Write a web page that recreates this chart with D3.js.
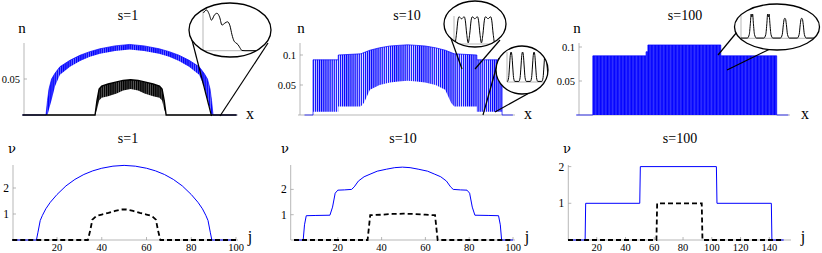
<!DOCTYPE html>
<html>
<head>
<meta charset="utf-8">
<script src="https://cdn.jsdelivr.net/npm/d3@7"></script>
<style>
  body { margin: 0; background: #fff; }
</style>
</head>
<body>
<script>
// ---- data ----
const titles = ["s=1", "s=10", "s=100"]

// top row: density n(x), envelope of the site peaks (upper) and troughs (lower), x in site units j
const tJ1 = [0, 11, 11.7, 12.4, 13.6, 15.2, 17.5, 22.2, 26.9, 31.5, 36.2, 43.2, 50, 56.8, 63.8, 68.5, 73.1, 77.8, 82.5, 84.8, 86.4, 87.6, 88.3, 89, 100]
const tUp1 = [0, 0, 0.02, 0.036, 0.05, 0.058, 0.067, 0.076, 0.083, 0.088, 0.092, 0.096, 0.098, 0.096, 0.092, 0.088, 0.083, 0.076, 0.067, 0.058, 0.05, 0.036, 0.02, 0, 0]
const tLo1 = [0, 0, 0, 0.008, 0.021, 0.04, 0.056, 0.067, 0.075, 0.081, 0.085, 0.089, 0.091, 0.089, 0.085, 0.081, 0.075, 0.067, 0.056, 0.04, 0.021, 0.008, 0, 0, 0]

const tJ1k = [0, 33.9, 34.8, 35.8, 37, 40, 44, 47, 50.5, 54, 57, 61, 64, 65.2, 66.2, 67.1, 100]
const tUp1k = [0, 0, 0.02, 0.036, 0.04, 0.043, 0.046, 0.048, 0.049, 0.048, 0.046, 0.043, 0.04, 0.036, 0.02, 0, 0]
const tLo1k = [0, 0, 0.008, 0.02, 0.024, 0.026, 0.03, 0.034, 0.036, 0.034, 0.03, 0.026, 0.024, 0.02, 0.008, 0, 0]

const tJ2 = [0, 4.1, 4.1, 16.2, 16.2, 27, 28.5, 31.4, 36, 41, 45, 49.45, 53.9, 57.9, 62.9, 67.5, 70.4, 71.9, 82.7, 82.7, 94.8, 94.8, 100]
const tUp2 = [0, 0, 0.092, 0.092, 0.1, 0.102, 0.104, 0.108, 0.112, 0.115, 0.116, 0.117, 0.116, 0.115, 0.112, 0.108, 0.104, 0.102, 0.1, 0.092, 0.092, 0, 0]
const tLo2 = [0, 0, 0.0055, 0.0055, 0.014, 0.014, 0.02, 0.042, 0.05, 0.054, 0.056, 0.057, 0.056, 0.054, 0.05, 0.042, 0.02, 0.014, 0.014, 0.0055, 0.0055, 0, 0]

const tJ3 = [0, 11.9, 11.9, 49.5, 49.5, 50.8, 50.8, 102.3, 102.3, 141.8, 141.8, 150]
const tUp3 = [0, 0, 0.087, 0.087, 0.093, 0.093, 0.103, 0.103, 0.087, 0.087, 0, 0]
const tLo3 = [0, 0, 0, 0, 0, 0, 0, 0, 0, 0, 0, 0]

// bottom row: occupation nu_j (blue solid, black dashed)
const bJ1 = [0, 10.8, 11.5, 12.5, 13.5, 15, 17, 20, 24, 28, 32, 36, 40, 45, 50, 55, 60, 64, 68, 72, 76, 80, 83, 85, 86.5, 87.5, 88.5, 89.2, 100]
const bBlue1 = [0, 0, 0.3, 0.75, 0.95, 1.2, 1.45, 1.75, 2.08, 2.33, 2.52, 2.66, 2.76, 2.84, 2.87, 2.84, 2.76, 2.66, 2.52, 2.33, 2.08, 1.75, 1.45, 1.2, 0.95, 0.75, 0.3, 0, 0]
const bJ1k = [0, 33.8, 34.8, 35.8, 37.5, 40, 43, 46, 48.5, 50, 51.5, 54, 57, 60, 62.5, 64.2, 65.2, 66.2, 100]
const bBlack1 = [0, 0, 0.35, 0.78, 0.92, 0.98, 1.04, 1.12, 1.17, 1.18, 1.17, 1.12, 1.04, 0.98, 0.92, 0.78, 0.35, 0, 0]

const bJ2 = [0, 4.2, 4.8, 5.6, 10, 16.4, 17.6, 18.8, 20, 23, 26.3, 27.5, 29.4, 32, 34.7, 38, 42.3, 46, 49.5, 53, 56.7, 61, 64.3, 67, 69.6, 71.5, 72.7, 76, 79, 80.2, 81.4, 82.6, 89, 93.4, 94.2, 94.8, 100]
const bBlue2 = [0, 0, 0.6, 0.96, 0.97, 0.98, 1.3, 1.85, 1.97, 1.98, 2.0, 2.1, 2.33, 2.5, 2.6, 2.72, 2.8, 2.86, 2.88, 2.86, 2.8, 2.72, 2.6, 2.5, 2.33, 2.1, 2.0, 1.98, 1.97, 1.85, 1.3, 0.98, 0.97, 0.96, 0.6, 0, 0]
const bJ2k = [0, 33.6, 34.8, 40, 45, 50, 55, 60, 64.4, 65.6, 100]
const bBlack2 = [0, 0, 0.98, 1.0, 1.03, 1.04, 1.03, 1.0, 0.98, 0, 0]

const bJ3 = [0, 11.9, 12.3, 49.9, 50.3, 103.2, 103.6, 141.4, 141.8, 150]
const bBlue3 = [0, 0, 1, 1, 2, 2, 1, 1, 0, 0]
const bJ3k = [0, 61.5, 62, 93, 93.5, 150]
const bBlack3 = [0, 0, 1, 1, 0, 0]

// tick values / labels
const nTicks = [[0.05], [0.05, 0.1], [0.05, 0.1]]
const nuTicks = [[1, 2], [1, 2], [1, 2]]
const jTicks = [[20, 40, 60, 80, 100], [20, 40, 60, 80, 100], [20, 40, 60, 80, 100, 120, 140]]

// zoom insets: local position (0-100) and relative height (0-1)
const insA_u = [0.9, 6.5, 11.1, 15.7, 21.3, 25.9, 30.6, 35.2, 40.7, 45.4, 50, 53.7, 57.4, 61.1, 64.8, 68.5, 72.2, 77.8, 100]
const insA_v = [0.93, 1.0, 0.91, 0.75, 0.88, 0.92, 0.83, 0.63, 0.68, 0.71, 0.61, 0.39, 0.24, 0.19, 0.15, 0.07, 0.005, 0, 0]
const insB_u = [0, 2, 5, 8, 10, 13.5, 15.5, 17.5, 21, 23, 26, 29, 32, 35, 37, 40.5, 42.5, 44.5, 48, 50, 53, 56, 59, 62, 64, 67.5, 69.5, 71.5, 75, 77, 80, 83, 88, 100]
const insB_v = [0.1, 0.04, 0.35, 0.85, 0.97, 0.93, 0.9, 0.93, 0.97, 0.85, 0.35, 0.04, 0.35, 0.85, 0.97, 0.93, 0.9, 0.93, 0.97, 0.85, 0.35, 0.04, 0.35, 0.85, 0.97, 0.93, 0.9, 0.93, 0.97, 0.85, 0.35, 0.04, 0.02, 0.02]
const insC_u = [0, 1, 4, 6, 8, 10, 12, 14, 16, 19, 29, 32, 34, 36, 38, 40, 42, 44, 47, 57, 60, 62, 64, 66, 68, 70, 72, 75, 85, 88, 90, 92, 94, 96, 98, 100]
const insC_v = [0.02, 0.02, 0.15, 0.5, 0.88, 1, 0.88, 0.5, 0.15, 0.02, 0.02, 0.15, 0.5, 0.88, 1, 0.88, 0.5, 0.15, 0.02, 0.02, 0.15, 0.5, 0.88, 1, 0.88, 0.5, 0.15, 0.02, 0.02, 0.15, 0.5, 0.88, 1, 0.88, 0.5, 0.15]
const insD_u = [0, 8.5, 11, 12.5, 13.5, 14.5, 15.5, 16.5, 18, 20.5, 30.5, 33, 34.5, 35.5, 36.5, 37.5, 38.5, 40, 42.5, 52.5, 55, 56.5, 57.7, 58.5, 59.3, 60.5, 62, 64.5, 75, 77.5, 79, 80.2, 81, 81.8, 83, 84.5, 87, 100]
const insD_v = [0.01, 0.01, 0.15, 0.6, 0.97, 0.85, 0.97, 0.6, 0.15, 0.01, 0.01, 0.15, 0.6, 0.97, 0.85, 0.97, 0.6, 0.15, 0.01, 0.01, 0.15, 0.55, 0.78, 0.8, 0.78, 0.55, 0.15, 0.01, 0.01, 0.15, 0.55, 0.78, 0.8, 0.78, 0.55, 0.15, 0.01, 0.01]

// ---- layout ----
const BLUE = "#0000ff"
const AXIS = "#9a9a9a"
const SERIF = "Liberation Serif, serif"

const svg = d3.select("body").append("svg").attr("width", 822).attr("height", 253)
    .style("font-family", SERIF)
const defs = svg.append("defs")

// one stripe per lattice site, to render the dense oscillation of n(x)
function stripes(id, x0, w, bar, color, bg) {
    let p = defs.append("pattern").attr("id", id)
        .attr("patternUnits", "userSpaceOnUse")
        .attr("x", x0).attr("y", 0).attr("width", w).attr("height", 253)
    if (bg) p.append("rect").attr("width", w).attr("height", 253).attr("fill", bg)
    p.append("rect").attr("width", bar).attr("height", 253).attr("fill", color)
}

function label(g, x, y, txt, size, anchor, family) {
    return g.append("text").attr("x", x).attr("y", y)
        .attr("text-anchor", anchor || "middle")
        .style("font-family", family || SERIF).style("font-size", size + "px")
        .attr("fill", "#000").text(txt)
}

const topLayout = [
    {xr: [22.45, 236.6], dom: [0, 100], ax: 24, yPer: 720, xEnd: 238, tx: 128, lx: 250, nx: 22},
    {xr: [304.5, 512.9], dom: [0, 100], ax: 300, yPer: 600, xEnd: 515, tx: 407, lx: 528, nx: 301},
    {xr: [576, 788.3], dom: [0, 150], ax: 579, yPer: 680, xEnd: 790, tx: 685, lx: 805, nx: 577}
]
const botLayout = [
    {xr: [12.25, 236], dom: [0, 100], ax: 13, yPer: 26, xEnd: 238, tx: 128, lx: 250, nx: 12},
    {xr: [294, 513], dom: [0, 100], ax: 290.7, yPer: 25.3, xEnd: 515, tx: 403, lx: 527, nx: 285},
    {xr: [568, 783.7], dom: [0, 150], ax: 568.3, yPer: 36.7, xEnd: 791, tx: 680, lx: 803, nx: 567}
]

const topSeries = [
    [{j: tJ1, up: tUp1, lo: tLo1, color: BLUE, pat: "p1b", sw: 0.7},
     {j: tJ1k, up: tUp1k, lo: tLo1k, color: "#000", pat: "p1k", sw: 1.4}],
    [{j: tJ2, up: tUp2, lo: tLo2, color: BLUE, pat: "p2b", sw: 0.7}],
    [{j: tJ3, up: tUp3, lo: tLo3, color: BLUE, pat: "p3b", sw: 0.7}]
]
const botSeries = [
    [{j: bJ1, v: bBlue1}, {j: bJ1k, v: bBlack1}],
    [{j: bJ2, v: bBlue2}, {j: bJ2k, v: bBlack2}],
    [{j: bJ3, v: bBlue3}, {j: bJ3k, v: bBlack3}]
]

// patterns: period = one site in pixels
let site = L => (L.xr[1] - L.xr[0]) / (L.dom[1] - L.dom[0])
stripes("p1b", topLayout[0].xr[0], site(topLayout[0]), 1.3, BLUE, "#6e6eff")
stripes("p1k", topLayout[0].xr[0], site(topLayout[0]), 1.3, "#000", "#5a5a5a")
stripes("p2b", topLayout[1].xr[0], site(topLayout[1]), 1.2, BLUE, "#e0e0ff")
stripes("p3b", topLayout[2].xr[0], site(topLayout[2]), 0.9, BLUE, "#4646ff")

// ---- top row ----
topLayout.forEach((L, i) => {
    let x = d3.scaleLinear().domain(L.dom).range(L.xr)
    let y = d3.scaleLinear().domain([0, 72 / L.yPer]).range([115, 43])
    let g = svg.append("g")

    // axes
    g.append("line").attr("x1", L.ax).attr("x2", L.ax).attr("y1", y(0)).attr("y2", 43)
        .attr("stroke", AXIS).attr("stroke-width", 0.7)
    g.append("line").attr("x1", L.ax - 2).attr("x2", L.xEnd).attr("y1", y(0)).attr("y2", y(0))
        .attr("stroke", AXIS).attr("stroke-width", 0.7)
    nTicks[i].forEach(t => {
        g.append("line").attr("x1", L.ax).attr("x2", L.ax + 3).attr("y1", y(t)).attr("y2", y(t))
            .attr("stroke", AXIS).attr("stroke-width", 0.7)
        label(g, L.ax - 4, y(t) + 3.5, t, 10.5, "end")
    })

    topSeries[i].forEach(s => {
        let pts = s.j.map((d, k) => ({j: d, up: s.up[k], lo: s.lo[k]}))
        g.append("path").datum(pts)
            .attr("d", d3.area().x(d => x(d.j)).y0(d => y(d.lo)).y1(d => y(d.up)))
            .attr("fill", "url(#" + s.pat + ")")
        g.append("path").datum(pts)
            .attr("d", d3.line().x(d => x(d.j)).y(d => y(d.up)))
            .attr("fill", "none").attr("stroke", s.color).attr("stroke-width", s.sw)
    })

    label(g, L.tx, 19.5, titles[i], 14)
    label(g, L.nx, 33, "n", 15)
    label(g, L.lx, 118.5, "x", 16)
})

// ---- bottom row ----
botLayout.forEach((L, i) => {
    let x = d3.scaleLinear().domain(L.dom).range(L.xr)
    let y = d3.scaleLinear().domain([0, 75 / L.yPer]).range([240, 165])
    let g = svg.append("g")

    g.append("line").attr("x1", L.ax).attr("x2", L.ax).attr("y1", y(0)).attr("y2", 165)
        .attr("stroke", AXIS).attr("stroke-width", 0.7)
    g.append("line").attr("x1", L.ax).attr("x2", L.xEnd).attr("y1", y(0)).attr("y2", y(0))
        .attr("stroke", AXIS).attr("stroke-width", 0.7)
    nuTicks[i].forEach(t => {
        g.append("line").attr("x1", L.ax).attr("x2", L.ax + 3).attr("y1", y(t)).attr("y2", y(t))
            .attr("stroke", AXIS).attr("stroke-width", 0.7)
        label(g, L.ax - 4, y(t) + 4, t, 11.5, "end")
    })
    jTicks[i].forEach(t => {
        g.append("line").attr("x1", x(t)).attr("x2", x(t)).attr("y1", y(0)).attr("y2", y(0) - 3)
            .attr("stroke", AXIS).attr("stroke-width", 0.7)
        label(g, x(t), 251, t, 10.5)
    })

    let line = d3.line().x(d => x(d[0])).y(d => y(d[1]))
    let blue = botSeries[i][0], black = botSeries[i][1]
    g.append("path").datum(blue.j.map((d, k) => [d, blue.v[k]]))
        .attr("d", line).attr("fill", "none").attr("stroke", BLUE).attr("stroke-width", 1)
    g.append("path").datum(black.j.map((d, k) => [d, black.v[k]]))
        .attr("d", line).attr("fill", "none").attr("stroke", "#000")
        .attr("stroke-width", 1.8).attr("stroke-dasharray", "5,3")

    label(g, L.tx, 143, titles[i], 14)
    label(g, L.nx, 153, "ν", 13, "middle", "DejaVu Serif, serif")
    label(g, L.lx, 242, "j", 16)
})

// ---- magnifier insets ----
const insets = [
    {e: [230, 30, 41, 27], box: [203, 257, 50.7, 10], u: insA_u, v: insA_v,
     cone: [[192, 40, 211.5, 116], [268, 43, 220, 116]]},
    {e: [475, 24, 31, 23], box: [454, 503, 44, 16], u: insB_u, v: insB_v,
     cone: [[449, 33, 462, 69], [500, 40, 475, 69]]},
    {e: [522, 70, 26, 24], box: [507, 548, 82, 52], u: insC_u, v: insC_v,
     cone: [[499, 58, 483, 115], [540, 87, 495, 112]]},
    {e: [777, 27, 42.5, 23], box: [741, 816, 38.3, 13.3], u: insD_u, v: insD_v,
     cone: [[737, 32, 718, 55], [770, 49, 727, 70]]}
]

insets.forEach((s, i) => {
    let g = svg.append("g")
    s.cone.forEach(c => {
        g.append("line").attr("x1", c[0]).attr("y1", c[1]).attr("x2", c[2]).attr("y2", c[3])
            .attr("stroke", "#000").attr("stroke-width", 1.2)
    })
    defs.append("clipPath").attr("id", "clip" + i)
        .append("ellipse").attr("cx", s.e[0]).attr("cy", s.e[1]).attr("rx", s.e[2]).attr("ry", s.e[3])
    g.append("ellipse").attr("cx", s.e[0]).attr("cy", s.e[1]).attr("rx", s.e[2]).attr("ry", s.e[3])
        .attr("fill", "#fff")

    let x = d3.scaleLinear().domain([0, 100]).range([s.box[0], s.box[1]])
    let y = d3.scaleLinear().domain([0, 1]).range([s.box[2], s.box[3]])
    let inner = g.append("g").attr("clip-path", "url(#clip" + i + ")")
    inner.append("line").attr("x1", x(0)).attr("x2", x(0)).attr("y1", y(0)).attr("y2", y(1))
        .attr("stroke", AXIS).attr("stroke-width", 0.7)
    inner.append("line").attr("x1", x(0)).attr("x2", x(100)).attr("y1", y(0)).attr("y2", y(0))
        .attr("stroke", AXIS).attr("stroke-width", 0.7)
    inner.append("path").datum(s.u.map((d, k) => [d, s.v[k]]))
        .attr("d", d3.line().x(d => x(d[0])).y(d => y(d[1])).curve(d3.curveMonotoneX))
        .attr("fill", "none").attr("stroke", "#000").attr("stroke-width", 1)

    g.append("ellipse").attr("cx", s.e[0]).attr("cy", s.e[1]).attr("rx", s.e[2]).attr("ry", s.e[3])
        .attr("fill", "none").attr("stroke", "#000").attr("stroke-width", 1.3)
})
</script>
</body>
</html>
